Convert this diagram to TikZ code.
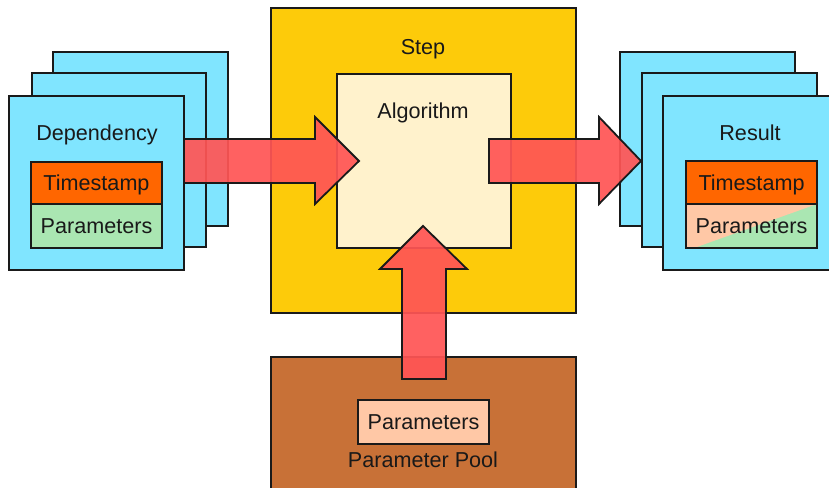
\documentclass[tikz,border=0pt]{standalone}
\usepackage{fontspec}
\setmainfont{Liberation Sans}
\definecolor{cyanbox}{HTML}{80E5FF}
\definecolor{orangebox}{HTML}{FF6600}
\definecolor{greenbox}{HTML}{AAE6B2}
\definecolor{stepbox}{HTML}{FDCB0A}
\definecolor{algobox}{HTML}{FFF2CC}
\definecolor{poolbox}{HTML}{C87137}
\definecolor{peachbox}{HTML}{FFC8A6}
\definecolor{arrowred}{HTML}{FF5555}
\definecolor{edge}{HTML}{1A1A1A}
\begin{document}
\begin{tikzpicture}[x=1pt,y=-1pt,
  font=\fontsize{21.6}{26}\selectfont,
  box/.style={draw=edge, line width=1.8pt, inner sep=0pt, outer sep=0pt, anchor=north west, text=black!90, text depth=0pt, text height=15.5pt},
  lbl/.style={inner sep=0pt, text=black!90, text depth=0pt},
  blockarrow/.style={fill=arrowred, fill opacity=0.93, draw=edge, line width=1.8pt, line join=miter}]
\useasboundingbox (0,0) rectangle (829,487);
% left stack
\node[box, fill=cyanbox, minimum width=175pt, minimum height=174pt] (dep3) at (53,52) {};
\node[box, fill=cyanbox, minimum width=174pt, minimum height=174pt] (dep2) at (32,73) {};
\node[box, fill=cyanbox, minimum width=175pt, minimum height=174pt] (dep1) at (9,96) {};
\node[lbl] (deplbl) at (97,133) {Dependency};
\node[box, fill=orangebox, minimum width=131pt, minimum height=42pt] (dts) at (31,162) {Timestamp};
\node[box, fill=greenbox, minimum width=131pt, minimum height=44pt] (dpar) at (31,204) {Parameters};
% step
\node[box, fill=stepbox, minimum width=305pt, minimum height=305pt] (step) at (271,8) {};
\node[lbl] (steplbl) at (423,47) {Step};
\node[box, fill=algobox, minimum width=174pt, minimum height=174pt] (algo) at (337,74) {};
\node[lbl] (algolbl) at (423,111) {Algorithm};
% pool
\node[box, fill=poolbox, minimum width=305pt, minimum height=150pt] (pool) at (271,357) {};
\node[box, fill=peachbox, minimum width=131pt, minimum height=44pt] (ppar) at (358,400) {Parameters};
\node[lbl] (poollbl) at (423,460) {Parameter Pool};
% right stack
\node[box, fill=cyanbox, minimum width=175pt, minimum height=174pt] (res3) at (620,52) {};
\node[box, fill=cyanbox, minimum width=175pt, minimum height=174pt] (res2) at (642,73) {};
\node[box, fill=cyanbox, minimum width=175pt, minimum height=174pt] (res1) at (663,96) {};
\node[lbl] (reslbl) at (750,133) {Result};
\node[box, fill=orangebox, minimum width=131pt, minimum height=43pt] (rts) at (686,161) {Timestamp};
\node[box, fill=greenbox, minimum width=131pt, minimum height=44pt,
  path picture={\fill[peachbox] (path picture bounding box.north west) -- (path picture bounding box.north east) -- ([xshift=8pt]path picture bounding box.south west) -- (path picture bounding box.south west) -- cycle;}] (rpar) at (686,204) {Parameters};
% arrows
\draw[blockarrow] (184,139) -- (315,139) -- (315,117) -- (359,161) -- (315,204) -- (315,183) -- (184,183) -- cycle;
\draw[blockarrow] (489,139) -- (599,139) -- (599,117) -- (641,161) -- (599,204) -- (599,183) -- (489,183) -- cycle;
\draw[blockarrow] (402,379) -- (402,269) -- (380,269) -- (423,226) -- (467,269) -- (446,269) -- (446,379) -- cycle;
\end{tikzpicture}
\end{document}
